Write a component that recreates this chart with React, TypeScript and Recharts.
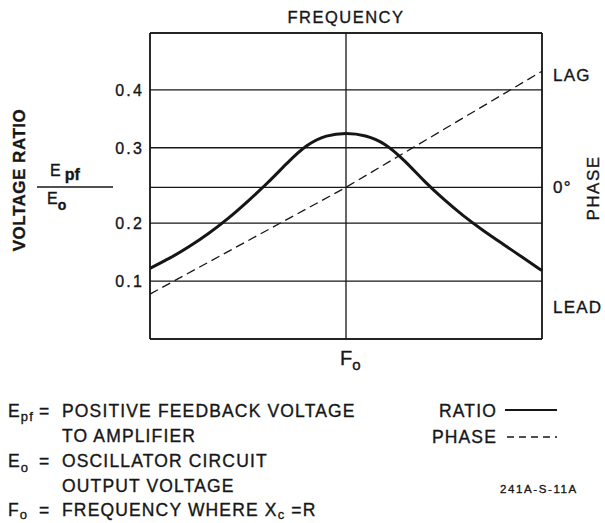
import React from 'react'
import { CartesianGrid, Line, LineChart, ReferenceLine, XAxis, YAxis } from 'recharts'

// x: log10(f / F0), schematic, one step = a tenth of the half width
const freqSteps = [
  -1, -0.9, -0.8, -0.7, -0.6, -0.5, -0.4, -0.3, -0.2, -0.1, 0,
  0.1, 0.2, 0.3, 0.4, 0.5, 0.6, 0.7, 0.8, 0.9, 1,
]
const ratioValues = [
  0.122, 0.139, 0.159, 0.182, 0.206, 0.229, 0.253, 0.28, 0.306, 0.322, 0.326,
  0.322, 0.308, 0.283, 0.255, 0.231, 0.209, 0.187, 0.164, 0.141, 0.118,
]
const phaseFreq = [-1, 0, 1]
const phaseValues = [-57, 0, 62]

const ratioTicks = [0.1, 0.2, 0.3, 0.4]
// the drawing spreads 0.2..0.3 wider than the other steps
const ratioTickPos = [0.1, 0.2, 0.33, 0.43]
const phaseTicks = [-64, 0, 60]
const phaseLabels = ['LEAD', '0°', 'LAG']

const FONT = '"Liberation Sans", Arial, sans-serif'
const INK = '#161616'

// ratio value -> position on the (uneven) left scale
function toPos(v: number) {
  const xs = [0, ...ratioTicks]
  const ps = [0, ...ratioTickPos]
  for (let i = 1; i < xs.length; i++) {
    if (v <= xs[i]) {
      return ps[i - 1] + ((v - xs[i - 1]) / (xs[i] - xs[i - 1])) * (ps[i] - ps[i - 1])
    }
  }
  return ps[ps.length - 1] + (v - xs[xs.length - 1])
}

const ratioData = freqSteps.map((f, i) => ({ f, ratio: toPos(ratioValues[i]) }))
const phaseData = phaseFreq.map((f, i) => ({ f, phase: phaseValues[i] }))

const TOP = 0.528

// pen-lettering look: a thin outline thickens the glyphs a little
const ink = { fontFamily: FONT, fill: INK, stroke: INK, strokeWidth: 0.35 }

function LeftTick({ x, y, payload }: any) {
  const i = ratioTickPos.indexOf(payload.value)
  return (
    <text x={x + 2} y={y + 6} textAnchor="end" fontSize={16} letterSpacing={2.2} {...ink}>
      {i >= 0 ? ratioTicks[i] : ''}
    </text>
  )
}

function RightTick({ x, y, payload }: any) {
  const i = phaseTicks.indexOf(payload.value)
  return (
    <text x={x + 3} y={y + 6} fontSize={17} letterSpacing={1.2} {...ink}>
      {phaseLabels[i]}
    </text>
  )
}

function FreqTick({ x, y }: any) {
  return (
    <text x={x - 6} y={y + 18} fontSize={20} {...ink}>
      F
      <tspan fontSize={15} dy={5}>o</tspan>
    </text>
  )
}

const txt = { ...ink, fontSize: 17.5, letterSpacing: 1.15 }
const sub = { fontSize: 13 }

export default function App() {
  return (
    <div style={{ position: 'absolute', left: 0, top: 0, width: 605, height: 523, background: '#fff' }}>
      <LineChart width={605} height={523} margin={{ top: 33, right: 0, bottom: 144, left: 90 }}>
        <CartesianGrid yAxisId="ratio" stroke={INK} strokeWidth={1.3} />
        <XAxis
          dataKey="f"
          type="number"
          domain={[-1, 1]}
          ticks={[0]}
          tick={<FreqTick />}
          tickLine={false}
          height={40}
          stroke={INK}
          strokeWidth={1.5}
        />
        <YAxis
          yAxisId="ratio"
          type="number"
          domain={[0, TOP]}
          ticks={ratioTickPos}
          tick={<LeftTick />}
          tickLine={false}
          width={60}
          stroke={INK}
          strokeWidth={1.5}
          allowDataOverflow
        />
        <YAxis
          yAxisId="phase"
          orientation="right"
          type="number"
          domain={[-81, 82.4]}
          ticks={phaseTicks}
          tick={<RightTick />}
          tickLine={false}
          width={63}
          stroke={INK}
          strokeWidth={1.5}
          allowDataOverflow
        />
        <ReferenceLine
          yAxisId="ratio"
          y={TOP}
          stroke={INK}
          strokeWidth={1.5}
          label={{
            value: 'FREQUENCY',
            position: 'top',
            offset: 10,
            fill: INK,
            stroke: INK,
            strokeWidth: 0.35,
            fontSize: 16.5,
            fontFamily: FONT,
            letterSpacing: 1.5,
          }}
        />
        <ReferenceLine yAxisId="phase" y={0} stroke={INK} strokeWidth={1.3} />
        <Line
          yAxisId="phase"
          data={phaseData}
          dataKey="phase"
          type="linear"
          stroke={INK}
          strokeWidth={1.3}
          strokeDasharray="9 5"
          dot={false}
          isAnimationActive={false}
        />
        <Line
          yAxisId="ratio"
          data={ratioData}
          dataKey="ratio"
          type="basis"
          stroke={INK}
          strokeWidth={3}
          dot={false}
          isAnimationActive={false}
        />
      </LineChart>

      <svg width={605} height={523} style={{ position: 'absolute', left: 0, top: 0, pointerEvents: 'none' }}>
        {/* axis titles */}
        <text
          transform="translate(25,180) rotate(-90)"
          textAnchor="middle"
          fontWeight="bold"
          fontSize={17}
          letterSpacing={0.5}
          {...ink}
        >
          VOLTAGE RATIO
        </text>
        <text x={50} y={176} fontSize={16} {...ink}>
          E<tspan dx={4} dy={4} fontWeight="bold">pf</tspan>
        </text>
        <line x1={37} x2={113} y1={187} y2={187} stroke={INK} strokeWidth={1.5} />
        <text x={47} y={204} fontSize={16} {...ink}>
          E<tspan dy={6} fontWeight="bold" fontSize={14}>o</tspan>
        </text>
        <text
          transform="translate(599,188) rotate(-90)"
          textAnchor="middle"
          fontSize={17}
          letterSpacing={1.5}
          {...ink}
        >
          PHASE
        </text>

        {/* definitions */}
        <text x={8} y={417} {...txt}>
          E<tspan dy={4} {...sub}>pf</tspan>
        </text>
        <text x={39} y={417} {...txt}>=</text>
        <text x={62} y={417} {...txt}>POSITIVE FEEDBACK VOLTAGE</text>
        <text x={62} y={442} {...txt}>TO AMPLIFIER</text>
        <text x={8} y={467} {...txt}>
          E<tspan dy={5} {...sub}>o</tspan>
        </text>
        <text x={39} y={467} {...txt}>=</text>
        <text x={62} y={467} {...txt}>OSCILLATOR CIRCUIT</text>
        <text x={62} y={492} {...txt}>OUTPUT VOLTAGE</text>
        <text x={8} y={516} {...txt}>
          F<tspan dy={3} {...sub}>o</tspan>
        </text>
        <text x={39} y={516} {...txt}>=</text>
        <text x={62} y={516} {...txt}>
          FREQUENCY WHERE X<tspan dy={3} {...sub}>c</tspan>
          <tspan dy={-3}> =R</tspan>
        </text>

        {/* legend */}
        <text x={497} y={417} textAnchor="end" {...txt}>RATIO</text>
        <line x1={505} x2={557} y1={410} y2={410} stroke={INK} strokeWidth={2.2} />
        <text x={497} y={443} textAnchor="end" {...txt}>PHASE</text>
        <line x1={507} x2={557} y1={437} y2={437} stroke={INK} strokeWidth={1.5} strokeDasharray="7 5" />
        <text x={500} y={493} fontSize={11.5} letterSpacing={1.6} {...ink}>
          241A-S-11A
        </text>
      </svg>
    </div>
  )
}
